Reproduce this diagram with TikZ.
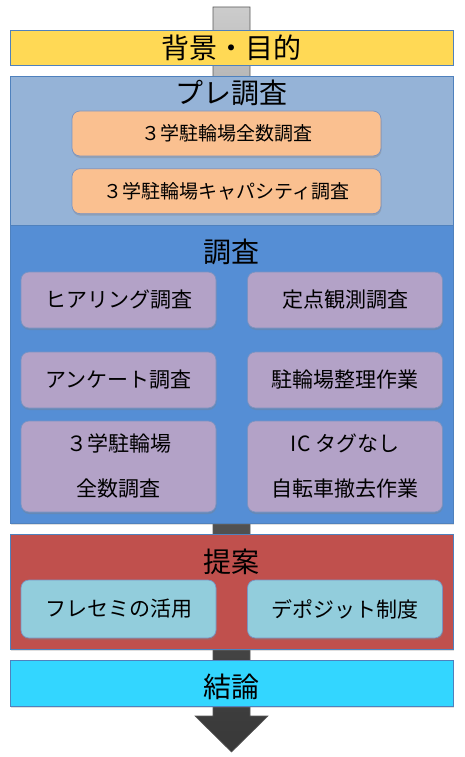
\documentclass[tikz,border=0pt]{standalone}
\usepackage{fontspec}
\usepackage{xcolor}
\usepackage{tikz}
\usetikzlibrary{shadows, calc, positioning}
\newfontfamily\jp{Noto Sans CJK JP}

\definecolor{bgyellow}{HTML}{FFD955}
\definecolor{prebg}{HTML}{95B3D7}
\definecolor{mainbg}{HTML}{558ED5}
\definecolor{propbg}{HTML}{C0504D}
\definecolor{concbg}{HTML}{33D6FF}
\definecolor{orangebox}{HTML}{FAC090}
\definecolor{purplebox}{HTML}{B3A2C7}
\definecolor{lightbox}{HTML}{92CDDC}
\definecolor{edgeblue}{HTML}{4F81BD}
\definecolor{edgesoft}{HTML}{7A93C2}

\begin{document}
\begin{tikzpicture}[
  x=1pt, y=-1pt,
  stage/.style={rectangle, draw=edgeblue, line width=0.8pt, minimum width=443pt, inner sep=0pt,
    drop shadow={shadow xshift=1pt, shadow yshift=-1.5pt, opacity=0.25}},
  stagetitle/.style={font=\jp\fontsize{28}{30}\selectfont, inner sep=0pt},
  item/.style={rectangle, draw=edgesoft, line width=0.7pt, rounded corners=8pt, inner sep=0pt,
    font=\jp\fontsize{21}{24}\selectfont, text centered,
    drop shadow={shadow xshift=0.5pt, shadow yshift=-2pt, opacity=0.35}},
  preitem/.style={item, fill=orangebox, minimum width=309pt, minimum height=45pt, font=\jp\fontsize{19}{22}\selectfont},
  survey/.style={item, fill=purplebox, minimum width=195pt},
  plan/.style={item, fill=lightbox, minimum width=195pt, minimum height=58pt},
  arrowbody/.style={draw=black!65, line width=0.6pt, top color=black!20, bottom color=black!78, middle color=black!62},
]
\useasboundingbox (0,0) rectangle (465,757);

% Flow arrow behind everything
\coordinate (top) at (231.5,7);
\coordinate (tip) at (231.5,752);
\path[arrowbody] ($(top)+(-18.5,0)$) -- ($(top)+(18.5,0)$) -- ($(tip)+(18.5,-36)$)
  -- ($(tip)+(36.5,-36)$) -- (tip) -- ($(tip)+(-36.5,-36)$) -- ($(tip)+(-18.5,-36)$) -- cycle;

% Background / purpose
\node[stage, fill=bgyellow, minimum height=35pt] (purpose) at (231.5,47.5) {};
\node[stagetitle] (purposetitle) at (231.5,47.5) {背景・目的};

% Pre-survey
\node[stage, fill=prebg, minimum height=149pt] (pre) at (231.5,150.5) {};
\node[stagetitle] (pretitle) at (231.5,93) {プレ調査};
\node[preitem] (pre1) at (226.5,133.5) {３学駐輪場全数調査};
\node[preitem, below=12pt of pre1] (pre2) {３学駐輪場キャパシティ調査};

% Survey
\node[stage, fill=mainbg, minimum height=298pt] (survey) at (231.5,374) {};
\node[stagetitle] (surveytitle) at (231.5,252) {調査};
\node[survey, minimum height=56pt] (hearing) at (118.5,300) {ヒアリング調査};
\node[survey, minimum height=56pt] (fixed) at (345,300) {定点観測調査};
\node[survey, minimum height=56pt] (enquete) at (118.5,380) {アンケート調査};
\node[survey, minimum height=56pt] (tidy) at (345,380) {駐輪場整理作業};
\node[survey, minimum height=91pt, align=center, font=\jp\fontsize{21}{45}\selectfont] (census) at (118.5,466.5) {３学駐輪場\\全数調査};
\node[survey, minimum height=91pt, align=center, font=\jp\fontsize{21}{45}\selectfont] (removal) at (345,466.5) {IC タグなし\\自転車撤去作業};

% Proposal
\node[stage, fill=propbg, minimum height=115pt] (proposal) at (231.5,591.5) {};
\node[stagetitle] (proposaltitle) at (231.5,562) {提案};
\node[plan] (fresemi) at (118.5,609) {フレセミの活用};
\node[plan] (deposit) at (345,609) {デポジット制度};

% Conclusion
\node[stage, fill=concbg, minimum height=46pt] (conclusion) at (231.5,683) {};
\node[stagetitle] (conclusiontitle) at (231.5,687) {結論};

\end{tikzpicture}
\end{document}
